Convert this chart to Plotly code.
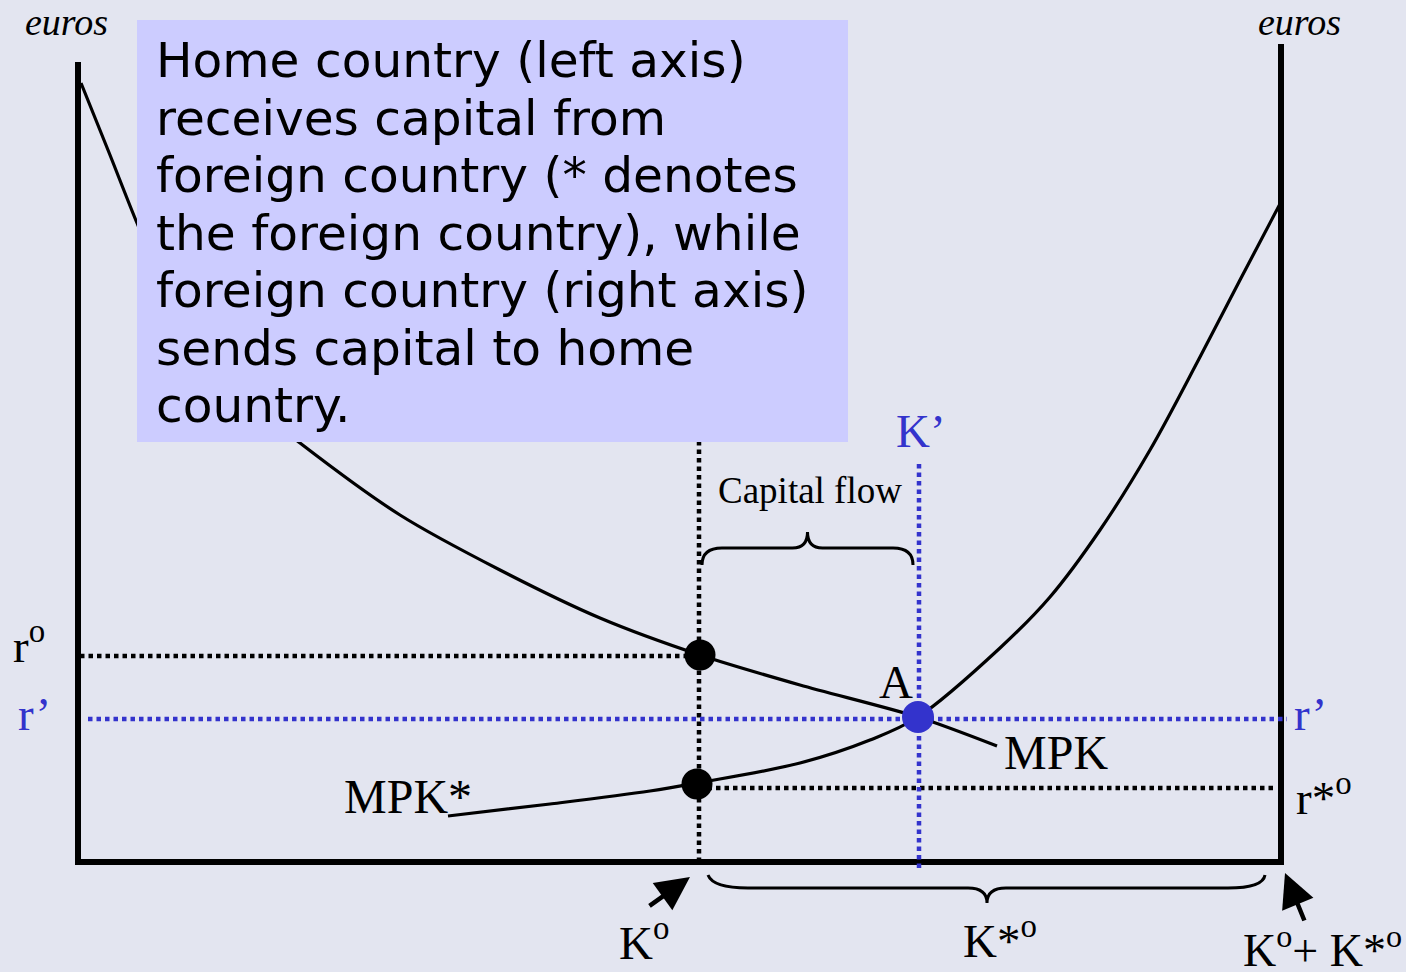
import plotly.graph_objects as go

# ---------------- data (capital on x, euros on y) ----------------
mpk_k = [3, 32, 59, 100, 150, 222, 322, 422, 522, 622, 722, 840, 919]
mpk_r = [779, 707, 639, 545, 478, 419, 347, 292, 244, 207, 177, 145, 116]

mpks_k = [370, 472, 572, 619, 722, 792, 840, 922, 972, 1022, 1072, 1122, 1162, 1203]
mpks_r = [46, 58, 71, 79, 99, 122, 145, 214, 265, 332, 412, 505, 582, 660]

K_total = 1203
K0 = 621
K_prime = 841
r0 = 206
r_prime = 144
r_star0 = 76
left_top = 800
right_top = 818

text_lines = [
    "Home country (left axis)",
    "receives capital from",
    "foreign country (* denotes",
    "the foreign country), while",
    "foreign country (right axis)",
    "sends capital to home",
    "country.",
]

BG = "#E3E5F0"
BOX = "#CCCCFF"
BLUE = "#3333CC"
SERIF = "Liberation Serif, Times New Roman, serif"
SANS = "DejaVu Sans, Verdana, sans-serif"

fig = go.Figure()

# axes frame
fig.add_trace(go.Scatter(x=[0, 0, K_total, K_total], y=[left_top, 0, 0, right_top],
                         mode="lines", line=dict(color="black", width=6), hoverinfo="skip"))

# dotted guide lines
dot = "4.5px,4px"
dw = 4.5
fig.add_trace(go.Scatter(x=[2, K0], y=[r0, r0], mode="lines",
                         line=dict(color="black", width=dw, dash=dot), hoverinfo="skip"))
fig.add_trace(go.Scatter(x=[K0, K0], y=[0, 424], mode="lines",
                         line=dict(color="black", width=dw, dash=dot), hoverinfo="skip"))
fig.add_trace(go.Scatter(x=[K0, 1196], y=[r_star0 - 2, r_star0 - 2], mode="lines",
                         line=dict(color="black", width=dw, dash=dot), hoverinfo="skip"))
fig.add_trace(go.Scatter(x=[10, 1209], y=[r_prime - 1, r_prime - 1], mode="lines",
                         line=dict(color=BLUE, width=dw, dash=dot), hoverinfo="skip"))
fig.add_trace(go.Scatter(x=[K_prime, K_prime], y=[-6, 400], mode="lines",
                         line=dict(color=BLUE, width=dw, dash=dot), hoverinfo="skip"))

# curves
fig.add_trace(go.Scatter(x=mpk_k, y=mpk_r, mode="lines",
                         line=dict(color="black", width=3.2, shape="spline", smoothing=0.8),
                         hoverinfo="skip"))
fig.add_trace(go.Scatter(x=mpks_k, y=mpks_r, mode="lines",
                         line=dict(color="black", width=3.2, shape="spline", smoothing=1),
                         hoverinfo="skip"))

# points
fig.add_trace(go.Scatter(x=[K0 + 1, K0 - 2], y=[r0 + 1, r_star0 + 2], mode="markers",
                         marker=dict(color="black", size=31), hoverinfo="skip"))
fig.add_trace(go.Scatter(x=[K_prime - 1], y=[r_prime + 1], mode="markers",
                         marker=dict(color=BLUE, size=32), hoverinfo="skip"))

shapes = []
# text box
shapes.append(dict(type="rect", xref="x", yref="y", x0=59, x1=770, y0=420, y1=842,
                   fillcolor=BOX, line=dict(width=0), layer="above"))
# top brace (capital flow)
bl, br, by, bp, bt = K0 + 3, K_prime - 6, 314, 330, 297
bm = (bl + br) / 2
shapes.append(dict(type="path", xref="x", yref="y", layer="above",
                   path=f"M {bl},{bt} Q {bl},{by} {bl+20},{by} L {bm-15},{by} Q {bm},{by} {bm},{bp} "
                        f"Q {bm},{by} {bm+15},{by} L {br-20},{by} Q {br},{by} {br},{bt}",
                   line=dict(color="black", width=3)))
# bottom brace (K*o)
ql, qr, qy, qp, qt = 630, 1187, -26, -41, -13
qm = 909
shapes.append(dict(type="path", xref="x", yref="y", layer="above",
                   path=f"M {ql},{qt} Q {ql+5},{qy} {ql+40},{qy} L {qm-19},{qy} Q {qm},{qy} {qm},{qp} "
                        f"Q {qm},{qy} {qm+19},{qy} L {qr-37},{qy} Q {qr-2},{qy} {qr},{qt}",
                   line=dict(color="black", width=3)))

ann = []
def lab(text, x, y, size=48, color="black", family=SERIF, xanchor="center", italic=False):
    t = f"<i>{text}</i>" if italic else text
    ann.append(dict(text=t, x=x, y=y, xref="x", yref="y", showarrow=False, xanchor=xanchor,
                    yanchor="middle", font=dict(family=family, size=size, color=color)))

# text box lines
for i, line in enumerate(text_lines):
    lab(line, 76, 802 - 57.5 * i, size=48.6, family=SANS, xanchor="left")

lab("euros", -12, 840, size=38, italic=True)
lab("euros", 1221, 840, size=38, italic=True)
lab("r<sup>o</sup>", -49, 220, size=47)
lab("r’", -44, 148, size=47, color=BLUE)
lab("Capital flow", 732, 372, size=37)
lab("K’", 843, 431, size=47, color=BLUE)
lab("A", 818, 180, size=47)
lab("MPK", 978, 110, size=48)
lab("MPK*", 330, 66, size=48)
lab("r’", 1232, 148, size=47, color=BLUE)
lab("r*<sup>o</sup>", 1246, 68, size=47)
lab("K<sup>o</sup>", 566, -77, size=47)
lab("K*<sup>o</sup>", 922, -75, size=47)
lab("K<sup>o</sup>+ K*<sup>o</sup>", 1244, -85, size=46)

# arrows
ann.append(dict(x=612, y=-15, ax=570, ay=-45, xref="x", yref="y", axref="x", ayref="y", text="",
                showarrow=True, arrowhead=2, arrowsize=1.5, arrowwidth=4.5, arrowcolor="black"))
ann.append(dict(x=1207, y=-11, ax=1227, ay=-60, xref="x", yref="y", axref="x", ayref="y", text="",
                showarrow=True, arrowhead=2, arrowsize=1.5, arrowwidth=4.5, arrowcolor="black"))

fig.update_layout(
    width=1406, height=972, margin=dict(l=0, r=0, t=0, b=0),
    paper_bgcolor=BG, plot_bgcolor=BG, showlegend=False,
    xaxis=dict(range=[-78, 1328], visible=False, fixedrange=True),
    yaxis=dict(range=[-110, 862], visible=False, fixedrange=True),
    shapes=shapes, annotations=ann,
)

fig.write_html("out.html", config={"displayModeBar": False},
               post_script="document.body.style.margin='0';document.body.style.overflow='hidden';")
